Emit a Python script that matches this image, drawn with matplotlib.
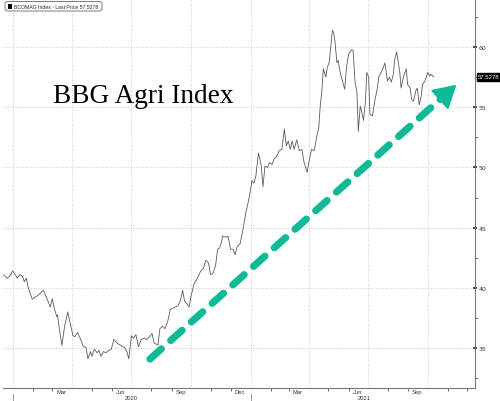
import numpy as np
import pandas as pd
import matplotlib
matplotlib.use("Agg")
import matplotlib.pyplot as plt
import matplotlib.dates as mdates
from matplotlib.patches import Polygon, FancyBboxPatch, Rectangle
from matplotlib.lines import Line2D

# BCOMAG index, values
dates = [
    "2019-12-17", "2019-12-22", "2019-12-26", "2019-12-31", "2020-01-04", "2020-01-07",
    "2020-01-11", "2020-01-15", "2020-01-18", "2020-01-21", "2020-01-24", "2020-01-30",
    "2020-02-06", "2020-02-12", "2020-02-16", "2020-02-19", "2020-02-22", "2020-02-27",
    "2020-03-01", "2020-03-04", "2020-03-08", "2020-03-09", "2020-03-13", "2020-03-16",
    "2020-03-20", "2020-03-25", "2020-03-28", "2020-04-02", "2020-04-05", "2020-04-09",
    "2020-04-13", "2020-04-18", "2020-04-22", "2020-04-25", "2020-04-29", "2020-05-01",
    "2020-05-05", "2020-05-09", "2020-05-12", "2020-05-15", "2020-05-19", "2020-05-23",
    "2020-05-27", "2020-05-31", "2020-06-04", "2020-06-09", "2020-06-15", "2020-06-20",
    "2020-06-24", "2020-06-27", "2020-07-01", "2020-07-04", "2020-07-08", "2020-07-12",
    "2020-07-16", "2020-07-21", "2020-07-25", "2020-07-30", "2020-08-02", "2020-08-05",
    "2020-08-11", "2020-08-14", "2020-08-18", "2020-08-22", "2020-08-26", "2020-08-30",
    "2020-09-03", "2020-09-07", "2020-09-11", "2020-09-15", "2020-09-18", "2020-09-21",
    "2020-09-24", "2020-09-28", "2020-10-01", "2020-10-06", "2020-10-10", "2020-10-12",
    "2020-10-16", "2020-10-20", "2020-10-24", "2020-10-28", "2020-10-31", "2020-11-04",
    "2020-11-08", "2020-11-11", "2020-11-14", "2020-11-17", "2020-11-19", "2020-11-25",
    "2020-11-27", "2020-12-01", "2020-12-05", "2020-12-08", "2020-12-11", "2020-12-16",
    "2020-12-21", "2020-12-24", "2020-12-28", "2020-12-31", "2021-01-03", "2021-01-06",
    "2021-01-09", "2021-01-13", "2021-01-17", "2021-01-20", "2021-01-23", "2021-01-27",
    "2021-01-30", "2021-02-03", "2021-02-06", "2021-02-10", "2021-02-14", "2021-02-18",
    "2021-02-22", "2021-02-25", "2021-02-28", "2021-03-03", "2021-03-06", "2021-03-09",
    "2021-03-13", "2021-03-17", "2021-03-21", "2021-03-24", "2021-03-29", "2021-04-02",
    "2021-04-05", "2021-04-09", "2021-04-13", "2021-04-16", "2021-04-18", "2021-04-21",
    "2021-04-23", "2021-04-27", "2021-04-29", "2021-05-02", "2021-05-05", "2021-05-07",
    "2021-05-09", "2021-05-11", "2021-05-14", "2021-05-16", "2021-05-19", "2021-05-22",
    "2021-05-26", "2021-05-29", "2021-06-01", "2021-06-03", "2021-06-06", "2021-06-08",
    "2021-06-11", "2021-06-14", "2021-06-16", "2021-06-19", "2021-06-21", "2021-06-24",
    "2021-06-27", "2021-06-29", "2021-07-02", "2021-07-04", "2021-07-08", "2021-07-11",
    "2021-07-15", "2021-07-18", "2021-07-21", "2021-07-24", "2021-07-27", "2021-07-31",
    "2021-08-03", "2021-08-06", "2021-08-09", "2021-08-11", "2021-08-14", "2021-08-16",
    "2021-08-19", "2021-08-21", "2021-08-25", "2021-08-29", "2021-08-31", "2021-09-04",
    "2021-09-06", "2021-09-09", "2021-09-13", "2021-09-15", "2021-09-18", "2021-09-21",
    "2021-09-23", "2021-09-27", "2021-10-01", "2021-10-04", "2021-10-06", "2021-10-10",
]
prices = [
    41.08, 40.80, 40.94, 41.40, 41.10, 40.80,
    41.10, 40.94, 40.50, 40.80, 40.00, 39.06,
    39.30, 39.56, 39.80, 39.47, 39.06, 38.40,
    39.10, 38.30, 37.60, 37.75, 36.20, 35.20,
    36.80, 38.00, 37.20, 36.00, 35.94, 36.30,
    35.80, 35.10, 35.05, 34.10, 34.70, 34.30,
    34.90, 34.60, 34.80, 34.30, 34.70, 34.60,
    34.80, 34.90, 35.70, 35.40, 35.20, 35.05,
    34.70, 34.10, 36.00, 35.80, 36.10, 35.10,
    35.70, 35.80, 35.70, 36.00, 36.20, 35.40,
    35.25, 36.60, 36.80, 36.60, 37.20, 38.20,
    38.30, 38.40, 38.50, 39.00, 39.80, 38.90,
    38.70, 38.40, 39.30, 40.40, 40.70, 40.94,
    41.40, 41.60, 42.30, 42.06, 41.10, 41.20,
    41.90, 43.20, 43.30, 43.80, 44.30, 44.20,
    44.30, 43.20, 43.20, 42.75, 43.40, 43.70,
    45.10, 46.10, 47.06, 47.90, 48.90, 48.70,
    49.30, 51.20, 50.25, 48.40, 50.10, 50.00,
    50.40, 50.25, 50.70, 50.90, 51.40, 51.50,
    53.20, 51.80, 52.20, 51.50, 52.20, 51.50,
    52.30, 51.40, 51.50, 50.50, 49.60, 50.80,
    51.50, 51.40, 52.60, 53.30, 54.90, 56.50,
    58.20, 57.50, 58.30, 58.70, 60.25, 61.40,
    61.20, 60.50, 58.70, 58.90, 57.90, 57.30,
    56.50, 58.40, 59.40, 59.60, 59.80, 59.70,
    57.10, 56.20, 53.00, 55.10, 54.70, 53.90,
    55.50, 57.90, 57.50, 54.40, 54.30, 55.40,
    56.50, 57.60, 57.90, 58.20, 58.70, 57.20,
    57.50, 57.10, 57.75, 58.90, 59.60, 59.00,
    57.90, 56.60, 57.60, 58.20, 56.90, 56.60,
    55.70, 55.50, 56.40, 56.60, 55.20, 55.90,
    56.90, 57.20, 57.90, 57.60, 57.75, 57.5278,
]
y_ticks = [35, 40, 45, 50, 55, 60]
month_labels = ["2020-03-15", "2020-06-15", "2020-09-15", "2020-12-15",
                "2021-03-15", "2021-06-15", "2021-09-15"]
years = ["2020", "2021"]
year_label_at = ["2020-07-01", "2021-06-25"]
last_price = 57.5278

series = pd.Series(prices, index=pd.to_datetime(dates))

W, H = 500, 402
fig = plt.figure(figsize=(W / 100, H / 100), dpi=100)
ax = fig.add_axes([3 / W, 1 - 389 / H, 472 / W, 389 / H])

ax.plot(series.index, series.values, color="#5a5a5a", lw=0.6)

ax.set_xlim(pd.Timestamp("2019-12-16"), pd.Timestamp("2021-12-13"))
ax.set_ylim(31.67, 64.0)

# y axis on the right
ax.yaxis.tick_right()
ax.set_yticks(y_ticks)
ax.set_yticks(np.arange(32.5, 64, 5), minor=True)
ax.tick_params(axis="y", which="major", length=2.5, width=1.2, color="#222222",
               labelsize=4.5, labelcolor="#333333", pad=1.5, direction="inout")
ax.tick_params(axis="y", which="minor", length=2, width=0.6, color="#555555")

# x axis: month ticks, labels mid-month, grid at quarter starts
ax.xaxis.set_major_locator(mdates.MonthLocator(bymonth=[1, 4, 7, 10]))
ax.xaxis.set_minor_locator(mdates.MonthLocator())
ax.tick_params(axis="x", which="major", length=0, labelbottom=False)
ax.tick_params(axis="x", which="minor", length=2, width=0.6, color="#555555")
ax.grid(True, which="major", color="#bbbbbb", lw=0.6, ls=(0, (1, 2)))

xt = ax.get_xaxis_transform()
for m in month_labels:
    d = pd.Timestamp(m)
    ax.text(d, -0.0095, d.strftime("%b"), transform=xt, ha="center", va="center",
            fontsize=4.2, color="#333333", family="Liberation Sans")
for yr, mid in zip(years, year_label_at):
    ax.text(pd.Timestamp(mid), -0.0245, yr, transform=xt, ha="center", va="center",
            fontsize=4.2, color="#333333", family="Liberation Sans")
for yr in years:
    ax.plot([pd.Timestamp(f"{yr}-01-01")] * 2, [-0.015, -0.04], transform=xt,
            color="#888888", lw=0.6, clip_on=False)

for s in ["left", "top"]:
    ax.spines[s].set_visible(False)
for s in ["right", "bottom"]:
    ax.spines[s].set_color("#777777")
    ax.spines[s].set_linewidth(0.8)

# last price tag
ax.text(1.006, last_price, f"{last_price:.4f}", transform=ax.get_yaxis_transform(),
        ha="left", va="center", fontsize=4.3, color="white", family="Liberation Sans",
        bbox=dict(boxstyle="square,pad=0.2", fc="black", ec="black"))

# legend box
fig.patches.append(FancyBboxPatch((5 / W, 1 - 12 / H), 97 / W, 9.5 / H,
                                  boxstyle="round,pad=0,rounding_size=0.006",
                                  transform=fig.transFigure, fc="white",
                                  ec="#666666", lw=0.6))
fig.patches.append(Rectangle((8 / W, 1 - 10 / H), 4 / W, 5 / H,
                             transform=fig.transFigure, fc="black", ec="none"))
fig.text(14 / W, 1 - 7.3 / H, f"BCOMAG Index - Last Price {last_price:.4f}", fontsize=3.7,
         va="center", ha="left", color="#222222", family="Liberation Sans")

# title
fig.text(53 / W, 1 - 103 / H, "BBG Agri Index", fontsize=19.6, family="Liberation Serif",
         ha="left", va="baseline", color="black")

# dashed arrow
teal = "#12b996"
tip = np.array([455.0, 87.0])
start = np.array([150.0, 360.0])
u = (tip - start) / np.linalg.norm(tip - start)
perp = np.array([-u[1], u[0]])
base = tip - 20 * u
end = base + 2 * u


def fc(p):
    return (p[0] / W, 1 - p[1] / H)


ln = Line2D([fc(start)[0], fc(end)[0]], [fc(start)[1], fc(end)[1]],
            transform=fig.transFigure, color=teal, lw=5.2,
            ls=(0, (2.1, 1.75)), solid_capstyle="round", dash_capstyle="round")
fig.lines.append(ln)
head = Polygon([fc(tip), fc(base + 11.5 * perp), fc(base - 11.5 * perp)],
               closed=True, transform=fig.transFigure, fc=teal, ec=teal,
               lw=1.5, joinstyle="round")
fig.patches.append(head)

fig.savefig("out.png", dpi=100)
